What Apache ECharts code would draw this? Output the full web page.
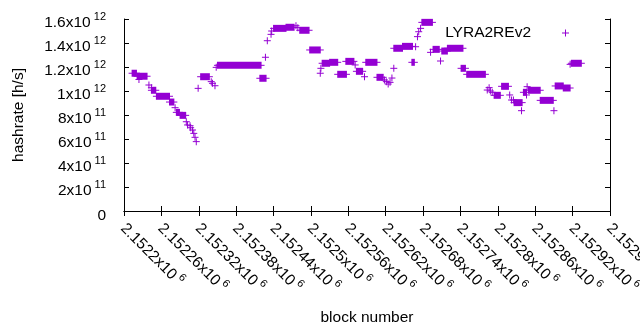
<!DOCTYPE html>
<html>
<head>
<meta charset="utf-8">
<script src="https://cdn.jsdelivr.net/npm/echarts@6/dist/echarts.min.js"></script>
<style>
html, body { margin: 0; padding: 0; background: #fff; }
#myChart { width: 640px; height: 330px; }
</style>
</head>
<body>
<div id="myChart"></div>
<script>
// runs of blocks sharing the same hashrate estimate (start == end -> single point)
const blockStart = [
    2152213, 2152224, 2152221, 2152240, 2152244, 2152244, 2152252, 2152273, 2152282, 2152284,
    2152290, 2152300, 2152302, 2152306, 2152307, 2152310, 2152312, 2152314, 2152316, 2152319,
    2152323, 2152340, 2152342, 2152346, 2152348, 2152350, 2152418, 2152427, 2152430, 2152436,
    2152437, 2152440, 2152460, 2152476, 2152479, 2152482, 2152498, 2152515, 2152516, 2152518,
    2152530, 2152543, 2152556, 2152571, 2152573, 2152586, 2152588, 2152606, 2152618, 2152621,
    2152624, 2152627, 2152630, 2152633, 2152633, 2152647, 2152662, 2152668, 2152671, 2152673,
    2152676, 2152678, 2152692, 2152696, 2152708, 2152710, 2152719, 2152741, 2152750, 2152783,
    2152786, 2152788, 2152791, 2152794, 2152806, 2152819, 2152822, 2152825, 2152826, 2152838,
    2152841, 2152847, 2152846, 2152849, 2152868, 2152890, 2152892, 2152905, 2152916, 2152918
];
const blockEnd = [
    2152220, 2152224, 2152237, 2152240, 2152244, 2152251, 2152273, 2152280, 2152282, 2152289,
    2152299, 2152300, 2152302, 2152306, 2152307, 2152310, 2152312, 2152314, 2152316, 2152319,
    2152337, 2152340, 2152342, 2152346, 2152348, 2152420, 2152428, 2152427, 2152430, 2152436,
    2152437, 2152460, 2152473, 2152476, 2152479, 2152497, 2152515, 2152515, 2152516, 2152530,
    2152543, 2152557, 2152569, 2152571, 2152583, 2152586, 2152606, 2152616, 2152618, 2152621,
    2152624, 2152627, 2152630, 2152633, 2152647, 2152663, 2152666, 2152668, 2152671, 2152673,
    2152676, 2152695, 2152692, 2152706, 2152708, 2152719, 2152744, 2152748, 2152780, 2152783,
    2152786, 2152788, 2152791, 2152804, 2152817, 2152819, 2152822, 2152825, 2152839, 2152838,
    2152846, 2152847, 2152846, 2152868, 2152889, 2152890, 2152905, 2152916, 2152916, 2152934
];
const hashrate = [
    1.148e12, 1.096e12, 1.123e12, 1.050e12, 1.027e12, 1.006e12, 0.956e12, 0.908e12, 0.861e12, 0.822e12,
    0.797e12, 0.744e12, 0.717e12, 0.711e12, 0.694e12, 0.675e12, 0.647e12, 0.614e12, 0.578e12, 1.022e12,
    1.119e12, 1.078e12, 1.064e12, 1.044e12, 1.197e12, 1.214e12, 1.106e12, 1.281e12, 1.419e12, 1.472e12,
    1.500e12, 1.522e12, 1.531e12, 1.544e12, 1.528e12, 1.506e12, 1.342e12, 1.148e12, 1.189e12, 1.231e12,
    1.239e12, 1.139e12, 1.247e12, 1.217e12, 1.164e12, 1.119e12, 1.239e12, 1.114e12, 1.092e12, 1.078e12,
    1.058e12, 1.072e12, 1.108e12, 1.189e12, 1.356e12, 1.372e12, 1.239e12, 1.369e12, 1.453e12, 1.494e12,
    1.522e12, 1.572e12, 1.322e12, 1.347e12, 1.250e12, 1.333e12, 1.356e12, 1.189e12, 1.139e12, 1.008e12,
    1.028e12, 1.000e12, 0.989e12, 0.964e12, 1.039e12, 0.967e12, 0.925e12, 0.925e12, 0.903e12, 0.836e12,
    0.989e12, 1.036e12, 0.967e12, 1.006e12, 0.922e12, 0.836e12, 1.042e12, 1.025e12, 1.222e12, 1.231e12
];

const seriesName = 'LYRA2REv2';
const xMin = 2152200, xMax = 2152980, xStep = 60;
const yMin = 0, yMax = 1.6e12, yStep = 2e11;

const color = '#9400d3';
const font = '"Liberation Sans", Arial, sans-serif';
const fs = 15.5;

// gnuplot style "1.6x10^12"
function sciLabel(v) {
    if (v === 0) return '{z|0}';
    const e = Math.floor(Math.log10(v) + 1e-9);
    const m = parseFloat((v / Math.pow(10, e)).toPrecision(6));
    return '{b|' + m + 'x10}{s| ' + e + '}';
}
const rich = {
    b: { fontSize: fs, lineHeight: 19, verticalAlign: 'bottom', fontFamily: font, color: '#000' },
    s: { fontSize: 11, lineHeight: 8, verticalAlign: 'top', fontFamily: font, color: '#000' },
    z: { fontSize: fs, lineHeight: 11, verticalAlign: 'top', padding: [0, 0, 8, 0], fontFamily: font, color: '#000' }
};

const myChart = echarts.init(document.getElementById('myChart'));

const data = blockStart.map((s, i) => [s, blockEnd[i], hashrate[i]]);

const axisLine = { show: true, lineStyle: { color: '#000', width: 1 } };
const tick = { show: true, inside: true, length: 5, lineStyle: { color: '#000' } };

const option = {
    animation: false,
    backgroundColor: '#fff',
    grid: { left: 124, right: 30, top: 19, bottom: 119, containLabel: false, outerBoundsMode: 'none' },
    legend: {
        data: [{ name: seriesName, icon: 'path://M3,0h1v3h3v1h-3v3h-1v-3h-3v-1h3z' }],
        selectedMode: false,
        align: 'right',
        right: 66,
        top: 20,
        itemWidth: 7,
        itemHeight: 7,
        itemStyle: { color: color },
        textStyle: { fontSize: fs, fontFamily: font, color: '#000', padding: [0, 26, 0, 0] }
    },
    xAxis: [{
        type: 'value',
        min: xMin, max: xMax, interval: xStep,
        position: 'bottom',
        name: 'block number',
        nameLocation: 'middle',
        nameGap: 99,
        nameTextStyle: { fontSize: fs, fontFamily: font, color: '#000' },
        axisLine: axisLine,
        axisTick: tick,
        splitLine: { show: false },
        axisLabel: {
            rotate: -45, margin: 14, fontSize: fs, fontFamily: font, color: '#000',
            formatter: sciLabel, rich: rich, showMinLabel: true, showMaxLabel: true
        }
    }, {
        type: 'value',
        min: xMin, max: xMax, interval: xStep,
        position: 'top',
        axisLine: axisLine,
        axisTick: tick,
        splitLine: { show: false },
        axisLabel: { show: false }
    }],
    yAxis: [{
        type: 'value',
        min: yMin, max: yMax, interval: yStep,
        position: 'left',
        name: 'hashrate [h/s]',
        nameLocation: 'middle',
        nameGap: 97,
        nameTextStyle: { fontSize: fs, fontFamily: font, color: '#000' },
        axisLine: axisLine,
        axisTick: tick,
        splitLine: { show: false },
        axisLabel: {
            margin: 18, padding: [4, 0, 0, 0], fontSize: fs, fontFamily: font, color: '#000',
            formatter: sciLabel, rich: rich
        }
    }, {
        type: 'value',
        min: yMin, max: yMax, interval: yStep,
        position: 'right',
        axisLine: axisLine,
        axisTick: tick,
        splitLine: { show: false },
        axisLabel: { show: false }
    }],
    series: [{
        name: seriesName,
        type: 'custom',
        xAxisIndex: 0,
        yAxisIndex: 0,
        color: color,
        encode: { x: [0, 1], y: 2 },
        data: data,
        renderItem: function (params, api) {
            // union of '+' marks over the block range
            const a = api.coord([api.value(0), api.value(2)]);
            const b = api.coord([api.value(1), api.value(2)]);
            return {
                type: 'group',
                children: [{
                    type: 'rect',
                    shape: { x: a[0] - 0.5, y: a[1] - 3.5, width: b[0] - a[0] + 1, height: 7 },
                    style: { fill: color }
                }, {
                    type: 'line',
                    shape: { x1: a[0] - 3.5, y1: a[1], x2: b[0] + 3.5, y2: b[1] },
                    style: { stroke: color, lineWidth: 1 }
                }]
            };
        }
    }]
};
myChart.setOption(option);

window.addEventListener('resize', myChart.resize);
</script>
</body>
</html>
